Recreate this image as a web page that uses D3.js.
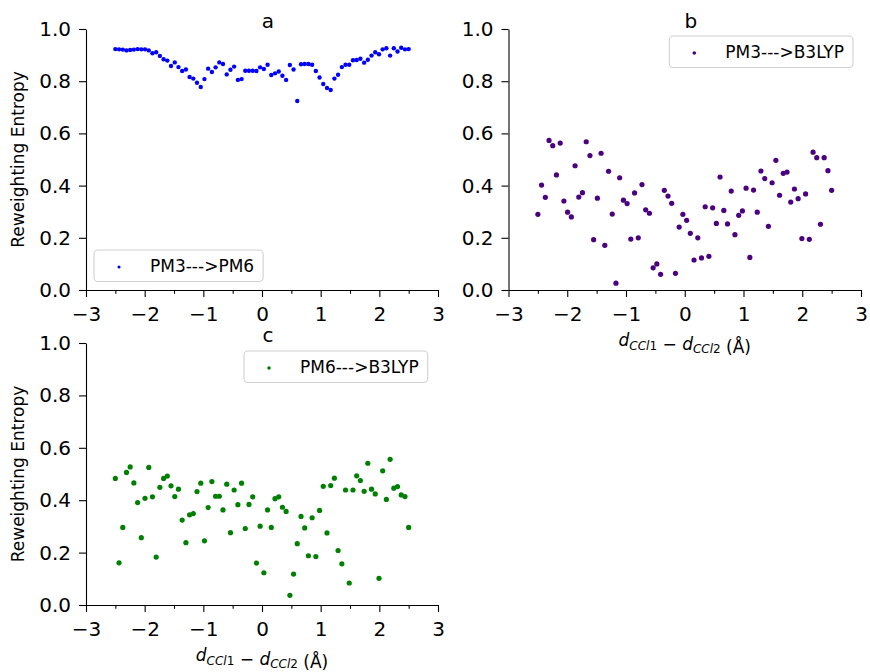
<!DOCTYPE html>
<html>
<head>
<meta charset="utf-8">
<script src="https://cdn.jsdelivr.net/npm/d3@7"></script>
<style>
  body { margin: 0; background: #fff; }
  svg text { font-family: "DejaVu Sans", sans-serif; white-space: pre; }
</style>
</head>
<body>
<svg class="grafico-d3-svg"></svg>
<script>
// reaction coordinate d_CCl1 - d_CCl2 (Å), same grid for the three panels
const X_VALS = [
  -2.500, -2.437, -2.373, -2.310, -2.247, -2.184, -2.120, -2.057, -1.994, -1.930,
  -1.867, -1.804, -1.741, -1.677, -1.614, -1.551, -1.487, -1.424, -1.361, -1.297,
  -1.234, -1.171, -1.108, -1.044, -0.981, -0.918, -0.854, -0.791, -0.728, -0.665,
  -0.601, -0.538, -0.475, -0.411, -0.348, -0.285, -0.222, -0.158, -0.095, -0.032,
   0.032,  0.095,  0.158,  0.222,  0.285,  0.348,  0.411,  0.475,  0.538,  0.601,
   0.665,  0.728,  0.791,  0.854,  0.918,  0.981,  1.044,  1.108,  1.171,  1.234,
   1.297,  1.361,  1.424,  1.487,  1.551,  1.614,  1.677,  1.741,  1.804,  1.867,
   1.930,  1.994,  2.057,  2.120,  2.184,  2.247,  2.310,  2.373,  2.437,  2.500
];

const ENT_PM3_PM6 = [
  0.923, 0.922, 0.921, 0.918, 0.920, 0.921, 0.923, 0.922, 0.922, 0.918,
  0.907, 0.911, 0.897, 0.884, 0.879, 0.858, 0.872, 0.854, 0.839, 0.845,
  0.816, 0.810, 0.794, 0.778, 0.808, 0.848, 0.835, 0.853, 0.872, 0.866,
  0.826, 0.844, 0.856, 0.805, 0.808, 0.840, 0.840, 0.840, 0.839, 0.853,
  0.847, 0.863, 0.824, 0.830, 0.837, 0.821, 0.805, 0.862, 0.845, 0.724,
  0.865, 0.866, 0.866, 0.863, 0.839, 0.814, 0.789, 0.774, 0.766, 0.810,
  0.825, 0.854, 0.863, 0.863, 0.880, 0.881, 0.886, 0.871, 0.882, 0.898,
  0.911, 0.903, 0.922, 0.926, 0.898, 0.926, 0.914, 0.928, 0.922, 0.923
];

const ENT_PM3_B3LYP = [
  0.290, 0.402, 0.355, 0.573, 0.553, 0.441, 0.563, 0.341, 0.298, 0.280,
  0.476, 0.356, 0.373, 0.568, 0.515, 0.193, 0.352, 0.524, 0.171, 0.455,
  0.291, 0.026, 0.430, 0.344, 0.331, 0.195, 0.372, 0.200, 0.404, 0.307,
  0.294, 0.085, 0.100, 0.060, 0.382, 0.360, 0.332, 0.064, 0.241, 0.290,
  0.267, 0.217, 0.115, 0.200, 0.123, 0.319, 0.129, 0.315, 0.255, 0.433,
  0.305, 0.253, 0.379, 0.212, 0.286, 0.303, 0.390, 0.125, 0.383, 0.298,
  0.456, 0.427, 0.244, 0.411, 0.497, 0.363, 0.447, 0.452, 0.337, 0.387,
  0.350, 0.197, 0.368, 0.194, 0.528, 0.507, 0.252, 0.507, 0.457, 0.382
];

const ENT_PM6_B3LYP = [
  0.483, 0.161, 0.296, 0.506, 0.527, 0.466, 0.391, 0.257, 0.407, 0.525,
  0.413, 0.183, 0.449, 0.483, 0.492, 0.455, 0.414, 0.442, 0.324, 0.238,
  0.344, 0.349, 0.433, 0.465, 0.245, 0.372, 0.471, 0.415, 0.415, 0.363,
  0.461, 0.276, 0.439, 0.383, 0.465, 0.292, 0.384, 0.413, 0.160, 0.301,
  0.123, 0.363, 0.296, 0.406, 0.413, 0.373, 0.357, 0.037, 0.118, 0.234,
  0.338, 0.294, 0.188, 0.333, 0.185, 0.361, 0.453, 0.275, 0.456, 0.484,
  0.208, 0.157, 0.439, 0.084, 0.439, 0.493, 0.475, 0.434, 0.541, 0.442,
  0.424, 0.102, 0.512, 0.403, 0.556, 0.446, 0.452, 0.420, 0.414, 0.296
];

const SERIES_LABELS = ["PM3--->PM6", "PM3--->B3LYP", "PM6--->B3LYP"];
const PANEL_TITLES  = ["a", "b", "c"];
const X_TICKS = [-3, -2, -1, 0, 1, 2, 3];
const Y_TICKS = [0, 0.2, 0.4, 0.6, 0.8, 1.0];
const Y_LABEL = "Reweighting Entropy";

const W = 870, H = 672;

const $SVG = d3.select(".grafico-d3-svg")
               .attr("width", W)
               .attr("height", H);

// one panel = one axes of the original figure
function painel(cfg) {
    const x = d3.scaleLinear().domain([-3, 3]).range([cfg.left, cfg.right]);
    const y = d3.scaleLinear().domain([0, 1]).range([cfg.bottom, cfg.top]);

    const g = $SVG.append("g");

    // minor x ticks every 0.5
    const minor = x.ticks(12).filter(v => !Number.isInteger(v));
    g.append("g")
     .attr("transform", `translate(0,${cfg.bottom})`)
     .call(d3.axisBottom(x).tickValues(minor).tickSize(3.8).tickFormat(""))
     .call(a => a.select(".domain").remove());

    g.append("g")
     .attr("transform", `translate(0,${cfg.bottom})`)
     .call(d3.axisBottom(x).tickValues(X_TICKS).tickSize(7).tickPadding(10)
             .tickSizeOuter(0).tickFormat(d3.format("d")));

    g.append("g")
     .attr("transform", `translate(${cfg.left},0)`)
     .call(d3.axisLeft(y).tickValues(Y_TICKS).tickSize(7).tickPadding(8)
             .tickSizeOuter(0).tickFormat(d3.format(".1f")));

    g.selectAll(".domain, .tick line").attr("stroke", "#000").attr("stroke-width", 1.1);
    g.selectAll(".tick text").attr("font-size", 20).attr("fill", "#000")
     .attr("font-family", "DejaVu Sans");

    // title
    g.append("text")
     .attr("x", (cfg.left + cfg.right) / 2 + 6)
     .attr("y", cfg.top - 1)
     .attr("text-anchor", "middle")
     .attr("font-size", 20)
     .text(cfg.title);

    // y label
    if (cfg.ylabel) {
        g.append("text")
         .attr("transform", `translate(${cfg.left - 62},${(cfg.top + cfg.bottom) / 2}) rotate(-90)`)
         .attr("text-anchor", "middle")
         .attr("font-size", 17)
         .text(Y_LABEL);
    }

    // x label, mathtext style
    if (cfg.xlabel) {
        const t = g.append("text")
         .attr("x", (cfg.left + cfg.right) / 2)
         .attr("y", cfg.bottom + 56)
         .attr("text-anchor", "middle")
         .attr("font-size", 17);
        ["1", "2"].forEach((n, i) => {
            if (i === 1) t.append("tspan").text(" \u2212 ");
            t.append("tspan").attr("font-style", "italic").text("d");
            t.append("tspan").attr("font-style", "italic").attr("font-size", 12).attr("dy", 3.5).text("CCl");
            t.append("tspan").attr("font-size", 12).text(n);
            t.append("tspan").attr("dy", -3.5).text("");
        });
        t.append("tspan").text(" (\u00c5)");
    }

    // points
    const pts = X_VALS.map((v, i) => ({x: v, y: cfg.values[i]}));
    g.append("g").selectAll("circle")
     .data(pts)
     .join("circle")
     .attr("cx", d => x(d.x))
     .attr("cy", d => y(d.y))
     .attr("r", cfg.r)
     .attr("fill", cfg.color);

    // legend
    const lg = g.append("g");
    const box = lg.append("rect")
                  .attr("rx", 4).attr("ry", 4)
                  .attr("fill", "#fff").attr("fill-opacity", 0.8)
                  .attr("stroke", "#d0d0d0").attr("stroke-width", 1.1);
    const txt = lg.append("text")
                  .attr("font-size", 17)
                  .text(cfg.label);
    const tw = txt.node().getComputedTextLength();
    const bw = 25 + 31 + tw + 9, bh = 31.5;
    const bx = cfg.legend.right !== undefined ? cfg.legend.right - bw : cfg.legend.left;
    const by = cfg.legend.top;
    box.attr("x", bx).attr("y", by).attr("width", bw).attr("height", bh);
    txt.attr("x", bx + 56).attr("y", by + 22);
    lg.append("circle")
      .attr("cx", bx + 25).attr("cy", by + 17)
      .attr("r", cfg.r * 0.7)
      .attr("fill", cfg.color);
}

painel({left: 86, right: 438, top: 29, bottom: 290, title: PANEL_TITLES[0],
        values: ENT_PM3_PM6, color: "#0000ff", r: 2.2, label: SERIES_LABELS[0],
        ylabel: true, xlabel: false, legend: {left: 94, top: 250}});

painel({left: 508.5, right: 861, top: 29, bottom: 290, title: PANEL_TITLES[1],
        values: ENT_PM3_B3LYP, color: "#4b0082", r: 2.6, label: SERIES_LABELS[1],
        ylabel: false, xlabel: true, legend: {right: 853, top: 36}});

painel({left: 86, right: 438, top: 343, bottom: 605, title: PANEL_TITLES[2],
        values: ENT_PM6_B3LYP, color: "#008000", r: 2.6, label: SERIES_LABELS[2],
        ylabel: true, xlabel: true, legend: {left: 244, top: 351}});
</script>
</body>
</html>
